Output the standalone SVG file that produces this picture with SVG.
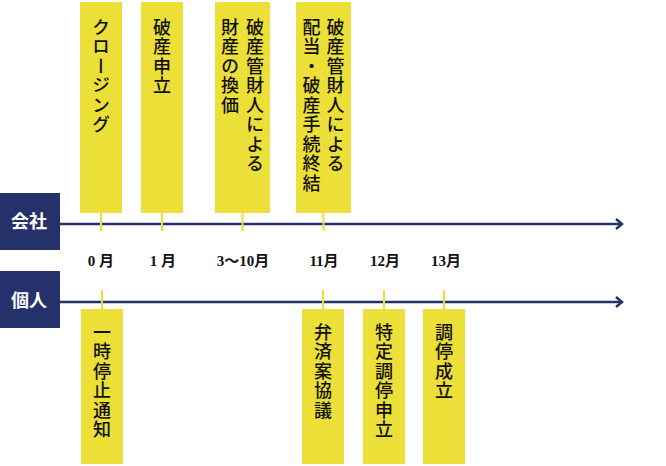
<svg xmlns="http://www.w3.org/2000/svg" width="666" height="466" viewBox="0 0 666 466">
<style>
.bg{fill:#ffffff}
.card{fill:#ebdf38}
.lane{fill:#24316b}
.lanet{fill:#ffffff;font-family:"Noto Sans CJK JP","Noto Sans",sans-serif;font-size:18px;font-weight:700;text-anchor:middle}
.vt{fill:#111111;font-family:"Noto Sans CJK JP",sans-serif;font-size:18px;font-weight:500;writing-mode:vertical-rl;letter-spacing:1.5px}
.mon{fill:#111111;font-family:"Liberation Serif","Noto Sans CJK JP",serif;font-size:15px;font-weight:700;text-anchor:middle}
.axis{stroke:#24316b;stroke-width:2.5;fill:none}
.stub{stroke:#ebdf38;stroke-width:2;fill:none}
</style>
<rect class="bg" x="0" y="0" width="666" height="466"/>
<g id="connectors">
  <line class="axis" x1="60" y1="224" x2="621" y2="224"/>
  <polyline class="axis" points="616,219 622,224 616,229"/>
  <line class="axis" x1="60" y1="302" x2="621" y2="302"/>
  <polyline class="axis" points="616,297 622,302 616,307"/>
  <line class="stub" x1="101" y1="212" x2="101" y2="231"/>
  <line class="stub" x1="162" y1="212" x2="162" y2="231"/>
  <line class="stub" x1="242.5" y1="212" x2="242.5" y2="231"/>
  <line class="stub" x1="323.5" y1="212" x2="323.5" y2="231"/>
  <line class="stub" x1="102" y1="290" x2="102" y2="310"/>
  <line class="stub" x1="323" y1="290" x2="323" y2="310"/>
  <line class="stub" x1="384" y1="290" x2="384" y2="310"/>
  <line class="stub" x1="444" y1="290" x2="444" y2="310"/>
</g>
<g id="lane-company">
  <rect class="lane" x="0" y="193" width="60" height="57"/>
  <text class="lanet" x="29" y="228">会社</text>
</g>
<g id="lane-personal">
  <rect class="lane" x="0" y="271" width="60" height="57"/>
  <text class="lanet" x="29" y="307">個人</text>
</g>
<g id="months">
  <text class="mon" x="101" y="266">0 月</text>
  <text class="mon" x="163" y="266">1 月</text>
  <text class="mon" x="243" y="266">3～10月</text>
  <text class="mon" x="324" y="266">11月</text>
  <text class="mon" x="385" y="266">12月</text>
  <text class="mon" x="446" y="266">13月</text>
</g>
<g id="c-closing">
  <rect class="card" x="80" y="2" width="42" height="211"/>
  <text class="vt" x="101" y="18">クロージング</text>
</g>
<g id="c-petition">
  <rect class="card" x="141" y="2" width="42" height="211"/>
  <text class="vt" x="162" y="18">破産申立</text>
</g>
<g id="c-liquidation">
  <rect class="card" x="215" y="2" width="55" height="211"/>
  <text class="vt" x="255" y="18">破産管財人による</text>
  <text class="vt" x="230" y="18">財産の換価</text>
</g>
<g id="c-termination">
  <rect class="card" x="296" y="2" width="55" height="211"/>
  <text class="vt" x="335.5" y="18">破産管財人による</text>
  <text class="vt" x="311.5" y="18">配当・破産手続終結</text>
</g>
<g id="p-suspension">
  <rect class="card" x="81" y="309" width="42" height="155"/>
  <text class="vt" x="102" y="323">一時停止通知</text>
</g>
<g id="p-negotiation">
  <rect class="card" x="302" y="309" width="42" height="155"/>
  <text class="vt" x="323" y="323">弁済案協議</text>
</g>
<g id="p-mediation">
  <rect class="card" x="363" y="309" width="42" height="155"/>
  <text class="vt" x="384" y="323">特定調停申立</text>
</g>
<g id="p-settled">
  <rect class="card" x="423" y="309" width="42" height="155"/>
  <text class="vt" x="444" y="323">調停成立</text>
</g>
</svg>
